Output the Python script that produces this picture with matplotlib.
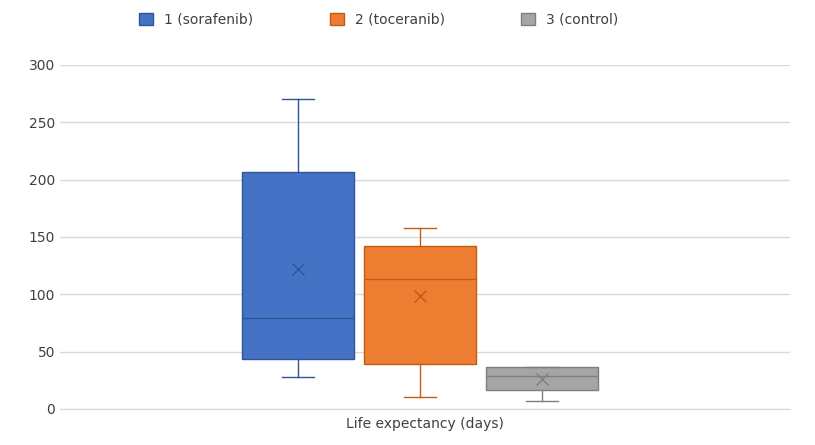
import numpy as np
import matplotlib.pyplot as plt
from matplotlib.patches import Patch


def plot_life_expectancy():
    # box statistics (days)
    stats = [
        dict(label='1 (sorafenib)', whislo=28, q1=43.5, med=79.5, q3=206.5, whishi=270, mean=122, fliers=[]),
        dict(label='2 (toceranib)', whislo=10, q1=39, med=113, q3=142, whishi=158, mean=98.5, fliers=[]),
        dict(label='3 (control)', whislo=7, q1=16.5, med=28.5, q3=36.5, whishi=36.5, mean=26, fliers=[]),
    ]
    fills = ['#4472C4', '#ED7D31', '#A5A5A5']
    edges = ['#2F5597', '#C55A11', '#7F7F7F']

    plt.rcParams['font.family'] = 'DejaVu Sans'
    fig = plt.figure(figsize=(8.15, 4.45), dpi=100)
    ax = fig.add_axes([0.0736, 0.081, 0.8957, 0.773])

    for i, s in enumerate(stats):
        ax.bxp([s], positions=[i + 1], widths=0.92, patch_artist=True, showmeans=True,
               boxprops=dict(facecolor=fills[i], edgecolor=edges[i], linewidth=1),
               medianprops=dict(color=edges[i], linewidth=1),
               whiskerprops=dict(color=edges[i], linewidth=1),
               capprops=dict(color=edges[i], linewidth=1),
               capwidths=0.26,
               meanprops=dict(marker='x', markeredgecolor=edges[i], markersize=8))

    ax.set_xlim(-0.95, 5.03)
    ax.set_ylim(0, 300)
    ax.set_yticks(np.arange(0, 301, 50))
    ax.set_xticks([])
    ax.yaxis.grid(True, color='#D9D9D9', linewidth=1)
    ax.set_axisbelow(True)
    for side in ['top', 'right', 'left']:
        ax.spines[side].set_visible(False)
    ax.spines['bottom'].set_color('#D9D9D9')
    ax.tick_params(axis='y', length=0, labelsize=10, colors='#404040')
    ax.set_xlabel('Life expectancy (days)', fontsize=10, color='#404040', labelpad=6)

    handles = [Patch(facecolor=fills[i], edgecolor=edges[i], label=s['label']) for i, s in enumerate(stats)]
    fig.legend(handles=handles, loc='upper center', bbox_to_anchor=(0.465, 1.0), ncol=3,
               frameon=False, fontsize=10, handlelength=1, handleheight=1, columnspacing=5.5,
               labelcolor='#404040')

    plt.savefig('out.png', dpi=100)


if __name__ == "__main__":
    plot_life_expectancy()
